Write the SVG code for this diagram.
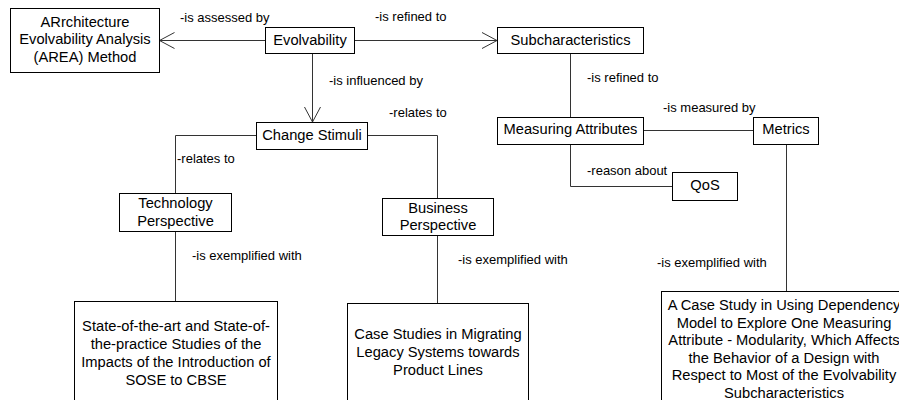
<svg xmlns="http://www.w3.org/2000/svg" width="899" height="400" viewBox="0 0 899 400">
<defs>
<style>
.box{fill:#fff;stroke:#000;stroke-width:1}
.t{font-family:"Liberation Sans",Arial,sans-serif;font-size:14.7px;fill:#000;text-anchor:middle}
.l{font-family:"Liberation Sans",Arial,sans-serif;font-size:13px;fill:#000}
.c{fill:none;stroke:#333;stroke-width:1}
</style>
<marker id="open" markerUnits="userSpaceOnUse" markerWidth="18" markerHeight="20" viewBox="-16 -10 18 20" refX="0" refY="0" orient="auto">
<path d="M-15,-8 L0,0 L-15,8" fill="none" stroke="#333" stroke-width="1"/>
</marker>
</defs>
<rect width="899" height="400" fill="#fff"/>
<g id="connectors">
<path class="c" d="M265,40.5 H159.5" marker-end="url(#open)"/>
<path class="c" d="M354,40.5 H497" marker-end="url(#open)"/>
<path class="c" d="M312.5,53 V122" marker-end="url(#open)"/>
<path class="c" d="M256,135.5 H175.5 V193"/>
<path class="c" d="M367,135.5 H437.5 V198"/>
<path class="c" d="M175.5,231 V301"/>
<path class="c" d="M437.5,235 V303"/>
<path class="c" d="M570.5,53 V117"/>
<path class="c" d="M643,130.5 H753"/>
<path class="c" d="M570.5,144 V186.5 H672"/>
<path class="c" d="M786.5,144 V291"/>
<text class="l" x="180" y="21.5">-is assessed by</text>
<text class="l" x="375" y="20.5">-is refined to</text>
<text class="l" x="329" y="85">-is influenced by</text>
<text class="l" x="389" y="116.5">-relates to</text>
<text class="l" x="177" y="163">-relates to</text>
<text class="l" x="587" y="82">-is refined to</text>
<text class="l" x="663" y="111.5">-is measured by</text>
<text class="l" x="587" y="175">-reason about</text>
<text class="l" x="192" y="260">-is exemplified with</text>
<text class="l" x="458" y="264">-is exemplified with</text>
<text class="l" x="657" y="267">-is exemplified with</text>
</g>
<g id="area">
<rect class="box" x="10.5" y="8.5" width="149" height="64"/>
<text class="t" x="85" y="26.5">ARrchitecture</text>
<text class="t" x="85" y="44.3">Evolvability Analysis</text>
<text class="t" x="85" y="62">(AREA) Method</text>
</g>
<g id="evolvability">
<rect class="box" x="265.5" y="27.5" width="89" height="26"/>
<text class="t" x="310" y="44.5">Evolvability</text>
</g>
<g id="subcharacteristics">
<rect class="box" x="497.5" y="27.5" width="146" height="26"/>
<text class="t" x="570.5" y="44.5">Subcharacteristics</text>
</g>
<g id="change-stimuli">
<rect class="box" x="256.5" y="122.5" width="111" height="27"/>
<text class="t" x="312" y="140">Change Stimuli</text>
</g>
<g id="measuring-attributes">
<rect class="box" x="497.5" y="117.5" width="146" height="27"/>
<text class="t" x="570.5" y="134.3">Measuring Attributes</text>
</g>
<g id="metrics">
<rect class="box" x="753.5" y="117.5" width="65" height="27"/>
<text class="t" x="786" y="134.3">Metrics</text>
</g>
<g id="qos">
<rect class="box" x="672.5" y="172.5" width="65" height="28"/>
<text class="t" x="705" y="190">QoS</text>
</g>
<g id="technology-perspective">
<rect class="box" x="119.5" y="193.5" width="112" height="38"/>
<text class="t" x="175.5" y="208.3">Technology</text>
<text class="t" x="175.5" y="225.7">Perspective</text>
</g>
<g id="business-perspective">
<rect class="box" x="382.5" y="198.5" width="111" height="37"/>
<text class="t" x="438" y="213.3">Business</text>
<text class="t" x="438" y="230">Perspective</text>
</g>
<g id="state-of-the-art">
<rect class="box" x="74.5" y="301.5" width="203" height="110"/>
<text class="t" x="176" y="330.5">State-of-the-art and State-of-</text>
<text class="t" x="176" y="348.5">the-practice Studies of the</text>
<text class="t" x="176" y="366.5">Impacts of the Introduction of</text>
<text class="t" x="176" y="384.5">SOSE to CBSE</text>
</g>
<g id="case-studies">
<rect class="box" x="347.5" y="303.5" width="181" height="110"/>
<text class="t" x="438" y="339.3">Case Studies in Migrating</text>
<text class="t" x="438" y="357">Legacy Systems towards</text>
<text class="t" x="438" y="375">Product Lines</text>
</g>
<g id="case-study-dependency">
<rect class="box" x="661.5" y="291.5" width="250" height="120"/>
<text class="t" x="784" y="310">A Case Study in Using Dependency</text>
<text class="t" x="784" y="327.5">Model to Explore One Measuring</text>
<text class="t" x="784" y="345">Attribute - Modularity, Which Affects</text>
<text class="t" x="784" y="362.5">the Behavior of a Design with</text>
<text class="t" x="784" y="380">Respect to Most of the Evolvability</text>
<text class="t" x="784" y="397.5">Subcharacteristics</text>
</g>
</svg>
